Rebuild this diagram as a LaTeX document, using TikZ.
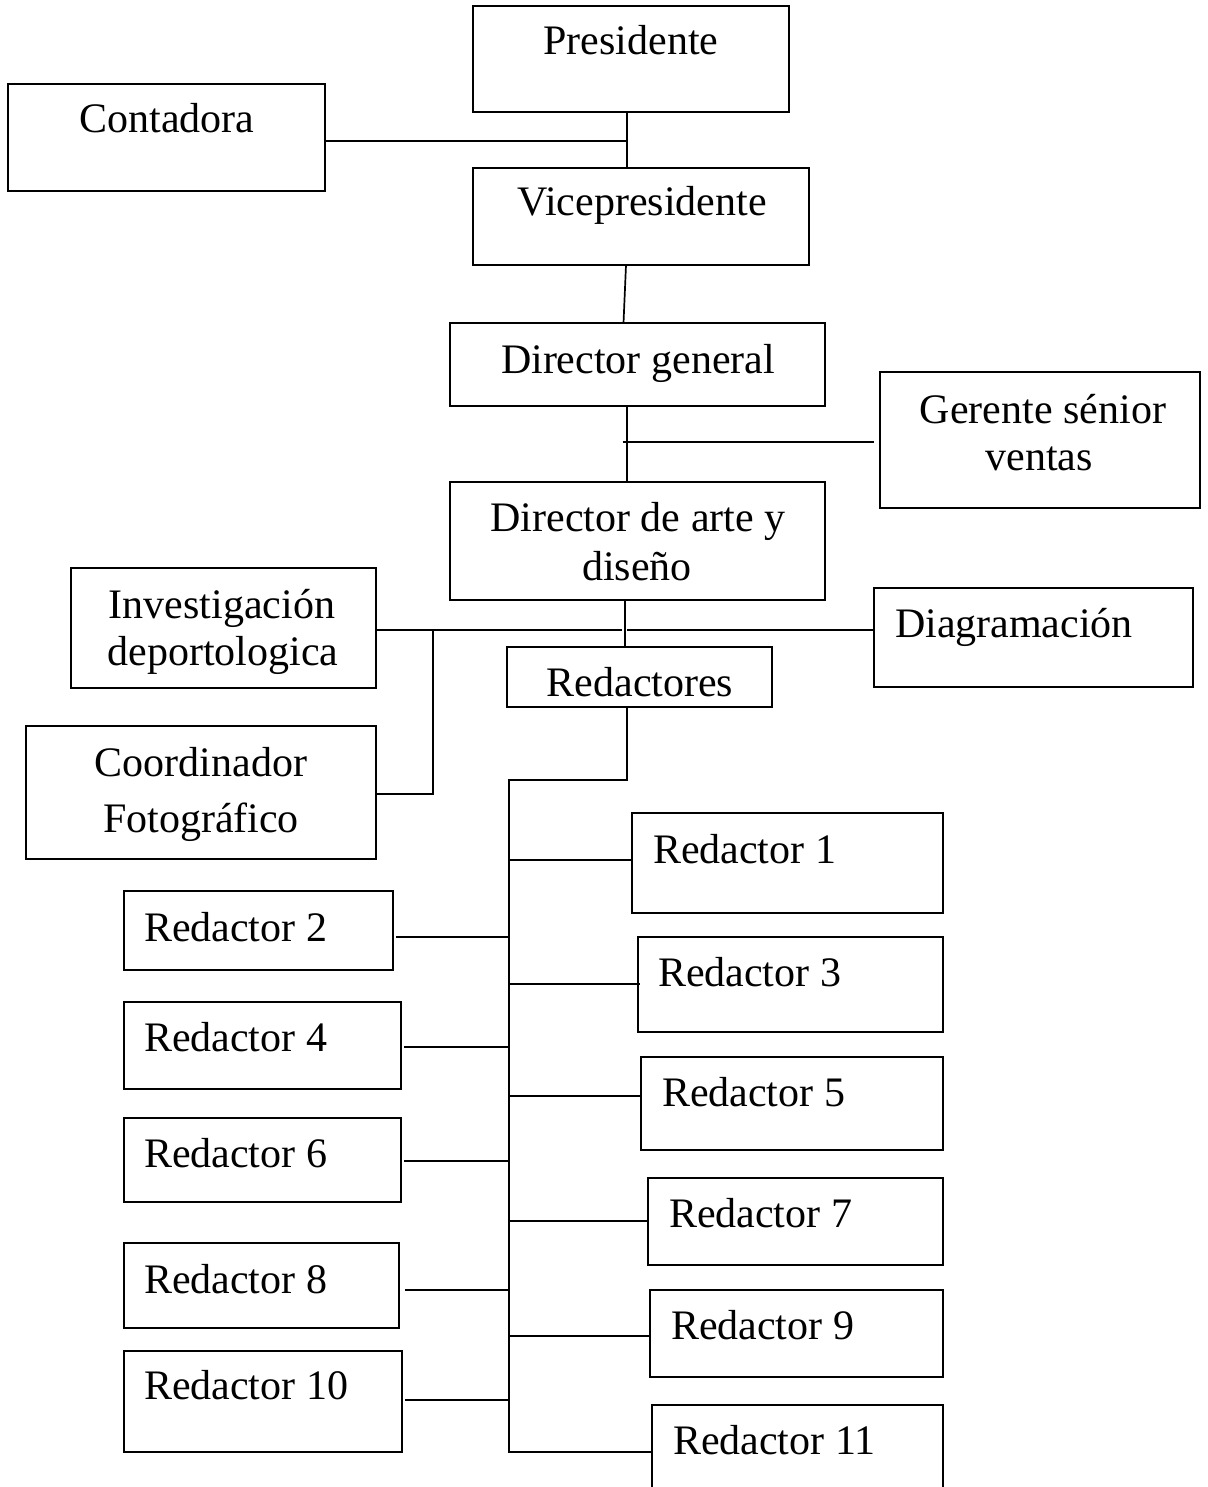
\documentclass[tikz,border=0pt]{standalone}
\usepackage{fontspec}
\setmainfont{Liberation Serif}
\usetikzlibrary{fit}

% a framed box given by its two corners
\newcommand\orgbox[5]{\node[boxst, fit={(#2,#3) (#4,#5)}] (#1) {};}
% a line of text placed by its baseline
\newcommand\orgtext[5]{\node[txt, anchor=#4] (#1) at (#2,#3) {#5};}

\begin{document}
\begin{tikzpicture}[x=1bp, y=-1bp,
  boxst/.style={draw, line width=2.2bp, inner sep=0pt, outer sep=0pt},
  txt/.style={font=\fontsize{42bp}{48bp}\selectfont, inner sep=0pt, outer sep=0pt},
  link/.style={line width=1.7bp}]
\useasboundingbox (0,0) rectangle (1207,1487);
\clip (0,0) rectangle (1207,1487);
\fill[white] (0,0) rectangle (1207,1487);

% ---- boxes ----
\orgbox{pres}{473}{6}{789}{112}
\orgbox{cont}{8}{84}{325}{191}
\orgbox{vice}{473}{168}{809}{265}
\orgbox{dg}{450}{323}{825}{406}
\orgbox{ger}{880}{372}{1200}{508}
\orgbox{da}{450}{482}{825}{600}
\orgbox{inv}{71}{568}{376}{688}
\orgbox{coord}{26}{726}{376}{859}
\orgbox{red}{507}{647}{772}{707}
\orgbox{diag}{874}{588}{1193}{687}
\orgbox{r1}{632}{813}{943}{913}
\orgbox{r2}{124}{891}{393}{970}
\orgbox{r3}{638}{937}{943}{1032}
\orgbox{r4}{124}{1002}{401}{1089}
\orgbox{r5}{641}{1057}{943}{1150}
\orgbox{r6}{124}{1118}{401}{1202}
\orgbox{r7}{648}{1178}{943}{1265}
\orgbox{r8}{124}{1243}{399}{1328}
\orgbox{r9}{650}{1290}{943}{1377}
\orgbox{r10}{124}{1351}{402}{1452}
\orgbox{r11}{652}{1405}{943}{1500}

% ---- labels ----
\orgtext{presT}{631}{55}{base}{Presidente}
\orgtext{contT}{167}{133}{base}{Contadora}
\orgtext{viceT}{642}{216}{base}{Vicepresidente}
\orgtext{dgT}{638}{373}{base}{Director general}
\orgtext{gerTa}{1043}{423}{base}{Gerente sénior}
\orgtext{gerTb}{1039}{470}{base}{ventas}
\orgtext{daTa}{638}{531}{base}{Director de arte y}
\orgtext{daTb}{637}{580}{base}{diseño}
\orgtext{invTa}{222}{618}{base}{Investigación}
\orgtext{invTb}{223}{665}{base}{deportologica}
\orgtext{coordTa}{201}{776}{base}{Coordinador}
\orgtext{coordTb}{201}{832}{base}{Fotográfico}
\orgtext{redT}{640}{696}{base}{Redactores}
\orgtext{diagT}{895}{637}{base west}{Diagramación}
\orgtext{r1T}{653}{863}{base west}{Redactor 1}
\orgtext{r2T}{144}{941}{base west}{Redactor 2}
\orgtext{r3T}{658}{986}{base west}{Redactor 3}
\orgtext{r4T}{144}{1051}{base west}{Redactor 4}
\orgtext{r5T}{662}{1106}{base west}{Redactor 5}
\orgtext{r6T}{144}{1167}{base west}{Redactor 6}
\orgtext{r7T}{669}{1227}{base west}{Redactor 7}
\orgtext{r8T}{144}{1293}{base west}{Redactor 8}
\orgtext{r9T}{671}{1339}{base west}{Redactor 9}
\orgtext{r10T}{144}{1399}{base west}{Redactor 10}
\orgtext{r11T}{673}{1454}{base west}{Redactor 11}

% ---- connectors ----
\coordinate (jc) at (627,141);
\draw[link] (pres.south -| jc) -- (vice.north -| jc);
\draw[link] (cont.east |- jc) -- (jc);
\draw[link] (vice.south -| 626,0) -- (dg.north -| 623.5,0);

\coordinate (jg) at (627,442);
\draw[link] (dg.south -| jg) -- (da.north -| jg);
\draw[link] ([xshift=-4.5]jg) -- ([xshift=-6]ger.west |- jg);

\coordinate (jd) at (625,630);
\draw[link] (da.south -| jd) -- (red.north -| jd);
\draw[link] (inv.east |- jd) -- ([xshift=-3]jd);
\draw[link] ([xshift=2]jd) -- (diag.west |- jd);

\coordinate (jf) at (433,630);
\draw[link] (jf) |- (coord.east |- 0,794);

\coordinate (jr) at (627,780);
\coordinate (trTop) at (509,780);
\coordinate (trBot) at (509,1452);
\draw[link] (red.south -| jr) |- (trTop) -- (trBot) -- (r11.west |- trBot);

% right-hand branches
\draw[link] (trTop |- 0,860) -- (r1.west |- 0,860);
\draw[link] (trTop |- 0,984) -- ([xshift=2]r3.west |- 0,984);
\draw[link] (trTop |- 0,1096) -- (r5.west |- 0,1096);
\draw[link] (trTop |- 0,1221) -- (r7.west |- 0,1221);
\draw[link] (trTop |- 0,1336) -- (r9.west |- 0,1336);

% left-hand branches
\draw[link] ([xshift=3]r2.east |- 0,937) -- (trTop |- 0,937);
\draw[link] ([xshift=3.5]r4.east |- 0,1047) -- (trTop |- 0,1047);
\draw[link] ([xshift=3.5]r6.east |- 0,1161) -- (trTop |- 0,1161);
\draw[link] ([xshift=6]r8.east |- 0,1290) -- (trTop |- 0,1290);
\draw[link] ([xshift=3]r10.east |- 0,1400) -- (trTop |- 0,1400);
\end{tikzpicture}
\end{document}
